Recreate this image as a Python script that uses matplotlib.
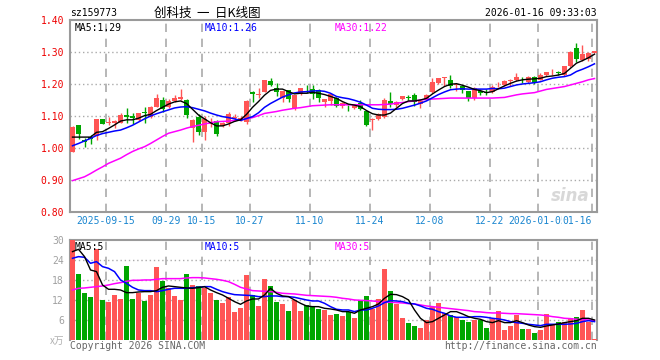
import numpy as np
import matplotlib
matplotlib.use("Agg")
from matplotlib import pyplot as plt
from matplotlib import transforms

# ---- data (88 trading days, 2025-09-05 .. 2026-01-16) ----
opens = [0.990, 1.073, 1.025, 1.034, 1.038, 1.091, 1.080, 1.078, 1.080, 1.104,
         1.101, 1.088, 1.114, 1.099, 1.130, 1.151, 1.130, 1.149, 1.153, 1.151,
         1.063, 1.098, 1.050, 1.076, 1.085, 1.069, 1.078, 1.096, 1.093, 1.081,
         1.177, 1.167, 1.177, 1.211, 1.187, 1.158, 1.181, 1.125, 1.170, 1.186,
         1.186, 1.183, 1.146, 1.148, 1.158, 1.132, 1.130, 1.126, 1.142, 1.115,
         1.089, 1.092, 1.099, 1.149, 1.136, 1.153, 1.160, 1.167, 1.138, 1.153,
         1.177, 1.205, 1.219, 1.213, 1.197, 1.196, 1.179, 1.156, 1.179, 1.177,
         1.175, 1.200, 1.198, 1.211, 1.213, 1.214, 1.208, 1.222, 1.214, 1.229,
         1.237, 1.240, 1.229, 1.257, 1.315, 1.276, 1.278, 1.299]
highs = [1.070, 1.074, 1.032, 1.041, 1.092, 1.092, 1.099, 1.087, 1.111, 1.127,
         1.109, 1.111, 1.130, 1.133, 1.170, 1.161, 1.155, 1.167, 1.184, 1.153,
         1.093, 1.108, 1.100, 1.094, 1.087, 1.082, 1.112, 1.108, 1.101, 1.150,
         1.180, 1.189, 1.215, 1.221, 1.203, 1.180, 1.183, 1.168, 1.190, 1.199,
         1.199, 1.185, 1.154, 1.170, 1.161, 1.145, 1.136, 1.137, 1.152, 1.116,
         1.094, 1.109, 1.158, 1.175, 1.148, 1.164, 1.168, 1.172, 1.152, 1.169,
         1.219, 1.221, 1.223, 1.228, 1.201, 1.199, 1.180, 1.192, 1.184, 1.184,
         1.198, 1.208, 1.213, 1.216, 1.234, 1.224, 1.227, 1.226, 1.234, 1.240,
         1.248, 1.243, 1.258, 1.304, 1.330, 1.323, 1.300, 1.305]
lows = [0.987, 1.030, 1.005, 1.013, 1.026, 1.075, 1.073, 1.062, 1.079, 1.078,
        1.076, 1.086, 1.080, 1.096, 1.128, 1.114, 1.125, 1.146, 1.150, 1.094,
        1.020, 1.042, 1.026, 1.068, 1.040, 1.066, 1.071, 1.086, 1.085, 1.076,
        1.146, 1.156, 1.176, 1.194, 1.163, 1.144, 1.146, 1.120, 1.166, 1.173,
        1.154, 1.146, 1.129, 1.136, 1.130, 1.127, 1.118, 1.124, 1.120, 1.070,
        1.057, 1.090, 1.095, 1.130, 1.128, 1.150, 1.150, 1.133, 1.126, 1.151,
        1.172, 1.202, 1.195, 1.190, 1.179, 1.174, 1.149, 1.152, 1.167, 1.167,
        1.172, 1.193, 1.195, 1.195, 1.210, 1.203, 1.205, 1.201, 1.212, 1.226,
        1.228, 1.229, 1.226, 1.253, 1.271, 1.274, 1.274, 1.297]
closes = [1.067, 1.045, 1.019, 1.028, 1.091, 1.076, 1.083, 1.085, 1.104, 1.099,
          1.095, 1.109, 1.110, 1.130, 1.156, 1.122, 1.149, 1.156, 1.161, 1.104,
          1.088, 1.052, 1.093, 1.080, 1.046, 1.078, 1.106, 1.098, 1.096, 1.148,
          1.171, 1.169, 1.214, 1.198, 1.177, 1.179, 1.153, 1.167, 1.189, 1.184,
          1.169, 1.156, 1.153, 1.169, 1.133, 1.142, 1.128, 1.136, 1.122, 1.073,
          1.091, 1.106, 1.151, 1.138, 1.145, 1.163, 1.158, 1.146, 1.149, 1.167,
          1.206, 1.219, 1.222, 1.195, 1.199, 1.183, 1.156, 1.190, 1.172, 1.174,
          1.193, 1.202, 1.210, 1.213, 1.224, 1.212, 1.224, 1.205, 1.229, 1.240,
          1.239, 1.234, 1.257, 1.302, 1.278, 1.295, 1.297, 1.303]

ma5 = [1.035, 1.035, 1.035, 1.035, 1.050, 1.052, 1.062, 1.073, 1.085, 1.089,
       1.089, 1.094, 1.102, 1.106, 1.118, 1.128, 1.138, 1.145, 1.148, 1.140,
       1.122, 1.104, 1.092, 1.080, 1.070, 1.070, 1.076, 1.084, 1.089, 1.106,
       1.128, 1.146, 1.166, 1.181, 1.185, 1.185, 1.177, 1.170, 1.172, 1.172,
       1.175, 1.172, 1.168, 1.162, 1.156, 1.146, 1.138, 1.135, 1.130, 1.118,
       1.108, 1.104, 1.104, 1.110, 1.125, 1.140, 1.148, 1.148, 1.151, 1.156,
       1.170, 1.182, 1.193, 1.200, 1.202, 1.197, 1.191, 1.184, 1.180, 1.174,
       1.177, 1.186, 1.195, 1.203, 1.210, 1.214, 1.216, 1.217, 1.219, 1.224,
       1.226, 1.229, 1.234, 1.250, 1.266, 1.274, 1.283, 1.294]
ma10 = [1.008, 1.015, 1.023, 1.031, 1.040, 1.046, 1.050, 1.054, 1.057, 1.064,
        1.072, 1.082, 1.092, 1.101, 1.108, 1.114, 1.120, 1.126, 1.129, 1.130,
        1.127, 1.122, 1.117, 1.110, 1.104, 1.099, 1.096, 1.092, 1.087, 1.093,
        1.099, 1.111, 1.128, 1.140, 1.150, 1.160, 1.167, 1.173, 1.176, 1.177,
        1.179, 1.180, 1.178, 1.172, 1.162, 1.158, 1.155, 1.150, 1.144, 1.135,
        1.125, 1.122, 1.121, 1.121, 1.122, 1.125, 1.130, 1.135, 1.141, 1.148,
        1.158, 1.168, 1.176, 1.183, 1.185, 1.186, 1.185, 1.185, 1.185, 1.185,
        1.187, 1.186, 1.188, 1.193, 1.198, 1.201, 1.203, 1.205, 1.208, 1.214,
        1.219, 1.222, 1.224, 1.229, 1.240, 1.247, 1.255, 1.264]
ma30 = [0.899, 0.905, 0.911, 0.921, 0.932, 0.942, 0.953, 0.961, 0.969, 0.980,
        0.990, 0.998, 1.005, 1.015, 1.026, 1.037, 1.047, 1.052, 1.057, 1.063,
        1.068, 1.072, 1.076, 1.080, 1.083, 1.084, 1.085, 1.087, 1.089, 1.092,
        1.096, 1.102, 1.109, 1.112, 1.115, 1.119, 1.122, 1.125, 1.127, 1.130,
        1.133, 1.134, 1.135, 1.136, 1.136, 1.136, 1.136, 1.136, 1.136, 1.136,
        1.136, 1.136, 1.137, 1.138, 1.141, 1.143, 1.146, 1.148, 1.151, 1.153,
        1.154, 1.155, 1.156, 1.157, 1.157, 1.157, 1.157, 1.157, 1.157, 1.157,
        1.157, 1.158, 1.159, 1.163, 1.167, 1.170, 1.172, 1.174, 1.179, 1.184,
        1.187, 1.190, 1.193, 1.198, 1.203, 1.208, 1.214, 1.218]

volume = [30.5, 19.9, 14.3, 13.0, 27.4, 12.1, 11.5, 13.5, 12.4, 22.3,
          12.4, 14.2, 11.8, 13.6, 22.0, 17.8, 15.6, 13.3, 12.1, 19.9,
          16.6, 16.3, 15.8, 14.2, 12.1, 11.2, 13.1, 8.5, 9.7, 19.6,
          13.6, 10.3, 18.4, 16.3, 11.5, 10.9, 8.8, 12.1, 8.8, 10.6,
          10.3, 9.4, 9.1, 7.6, 7.9, 7.3, 8.6, 6.7, 12.1, 13.3,
          9.4, 12.4, 21.4, 14.8, 10.9, 6.7, 5.2, 4.3, 3.7, 6.1,
          10.0, 11.2, 8.2, 7.6, 7.0, 6.1, 5.5, 6.1, 6.1, 3.7,
          6.4, 8.8, 3.1, 4.3, 7.6, 3.4, 3.4, 2.2, 3.1, 7.9,
          4.6, 5.5, 5.5, 6.7, 7.0, 9.1, 5.5, 0.4]
vma5 = [26.6, 27.3, 25.1, 21.1, 20.6, 16.6, 15.3, 15.3, 15.1, 14.3,
        14.3, 14.5, 14.6, 14.6, 14.9, 15.9, 16.3, 16.1, 15.9, 15.7,
        15.6, 15.8, 16.1, 15.1, 14.3, 13.6, 12.6, 11.6, 10.8, 11.8,
        12.4, 12.4, 13.6, 15.6, 14.1, 13.3, 13.1, 12.1, 11.1, 10.3,
        10.1, 10.1, 9.6, 9.4, 9.1, 8.6, 8.6, 8.1, 9.1, 9.6,
        10.1, 10.9, 12.6, 13.8, 13.7, 13.1, 12.1, 9.1, 6.6, 5.3,
        5.6, 6.6, 7.6, 8.6, 8.6, 7.9, 7.1, 6.6, 6.3, 5.6,
        5.3, 5.9, 5.3, 5.3, 5.9, 5.3, 4.6, 4.1, 3.9, 4.3,
        4.6, 4.9, 5.3, 5.6, 5.9, 6.6, 6.6, 6.1]
vma10 = [24.6, 25.1, 24.9, 23.1, 23.6, 22.1, 21.6, 20.6, 18.1, 17.1,
         15.9, 15.1, 14.9, 14.9, 14.6, 14.9, 15.3, 15.6, 15.6, 15.6,
         15.8, 15.9, 16.1, 16.1, 15.3, 14.6, 14.1, 13.7, 13.6, 13.5,
         13.4, 13.1, 13.1, 13.3, 13.3, 13.1, 13.1, 12.9, 12.5, 12.1,
         11.8, 11.8, 11.1, 10.1, 9.3, 9.1, 9.1, 8.6, 9.1, 9.1,
         9.6, 10.3, 11.3, 11.9, 11.8, 11.6, 11.1, 10.9, 10.3, 9.6,
         9.3, 8.6, 8.1, 7.3, 6.9, 6.9, 6.9, 7.1, 7.1, 6.9,
         6.6, 6.4, 6.1, 5.6, 5.3, 5.1, 4.8, 4.6, 4.4, 4.8,
         4.8, 4.8, 4.8, 4.9, 5.1, 5.6, 5.9, 5.6]
vma30 = [15.1, 15.6, 15.7, 15.9, 16.1, 16.3, 16.6, 17.0, 17.3, 17.7,
         18.0, 18.0, 18.1, 18.1, 18.3, 18.5, 18.5, 18.5, 18.5, 18.7,
         18.8, 18.8, 18.7, 18.5, 18.3, 18.0, 17.6, 16.8, 15.9, 15.4,
         14.9, 14.8, 14.7, 14.6, 14.4, 14.1, 14.0, 13.9, 13.7, 13.5,
         13.4, 13.3, 13.2, 13.1, 12.9, 12.6, 12.4, 12.1, 12.0, 11.9,
         11.8, 11.6, 11.5, 11.4, 11.3, 11.2, 11.0, 10.9, 10.6, 10.3,
         10.1, 9.9, 9.7, 9.5, 9.3, 9.1, 8.9, 8.6, 8.5, 8.3,
         8.2, 8.2, 8.1, 8.0, 8.0, 7.9, 7.8, 7.7, 7.6, 7.4,
         7.1, 6.9, 6.6, 6.5, 6.3, 6.2, 6.1, 5.9]

tick_idx = [6, 16, 22, 30, 40, 50, 60, 70, 78, 87]
tick_labels = ["2025-09-15", "09-29", "10-15", "10-27", "11-10", "11-24",
               "12-08", "12-22", "2026-01-05", "01-16"]
price_ticks = [0.80, 0.90, 1.00, 1.10, 1.20, 1.30, 1.40]
vol_ticks = [6, 12, 18, 24, 30]

RED = "#ff5555"
GREEN = "#00a600"
GRID = "#aaaaaa"
SPINE = "#9a9a9a"
MONO = "DejaVu Sans Mono"
FS = 7

plt.rcParams["font.family"] = [MONO, "Noto Sans CJK SC"]

fig = plt.figure(figsize=(6.6, 3.6), dpi=100)
W, H = 660.0, 360.0
ax = fig.add_axes([70.3 / W, 1 - 212.3 / H, 527 / W, 192 / H])
axv = fig.add_axes([70.3 / W, 1 - 340.3 / H, 527 / W, 100 / H])

x = np.arange(len(closes))
o = np.array(opens)
c = np.array(closes)
up = c >= o
cols = [RED if u else GREEN for u in up]
grid_x = [i - 0.42 for i in tick_idx]

# ---- price panel ----
ax.vlines(x, lows, highs, colors=cols, lw=1, zorder=3)
body_h = np.maximum(np.abs(c - o), 0.0025)
ax.bar(x, body_h, bottom=np.minimum(o, c), width=0.82, color=cols, lw=0, zorder=4)
ax.plot(x, ma30, color="#ff00ff", lw=1.1, zorder=5)
ax.plot(x, ma10, color="#0000ff", lw=1.1, zorder=5)
ax.plot(x, ma5, color="#000000", lw=1.0, zorder=6)

for p in price_ticks[1:-1]:
    ax.axhline(p, color=GRID, lw=1, ls=(0, (1, 2)), zorder=1)
for gx in grid_x:
    ax.axvline(gx, color=GRID, lw=1.2, ls=(0, (5, 4)), zorder=1)
    axv.axvline(gx, color=GRID, lw=1.2, ls=(0, (5, 4)), zorder=1)

ax.set_xlim(-0.37, 87.47)
ax.set_ylim(0.80, 1.40)
ax.set_yticks(price_ticks)
ax.set_yticklabels(["%.2f" % p for p in price_ticks], color="#ee0000", fontsize=FS)
ax.tick_params(axis="y", length=0, pad=4.5)
ax.set_xticks(grid_x[:-1])
ax.set_xticklabels(tick_labels[:-1], color="#1a86d0", fontsize=FS)
ax.tick_params(axis="x", length=0, pad=2.5)
ax.text(grid_x[-1], -0.02, tick_labels[-1], transform=transforms.blended_transform_factory(ax.transData, ax.transAxes),
        ha="right", va="top", color="#1a86d0", fontsize=FS,
        bbox=dict(facecolor="white", edgecolor="none", pad=0.3), clip_on=False)
for s in ax.spines.values():
    s.set_color(SPINE)
    s.set_linewidth(1.5)

ax.text(0.008, 0.985, "MA5:1.29", transform=ax.transAxes, ha="left", va="top", fontsize=FS, color="black")
ax.text(0.255, 0.985, "MA10:1.26", transform=ax.transAxes, ha="left", va="top", fontsize=FS, color="#0000ff")
ax.text(0.502, 0.985, "MA30:1.22", transform=ax.transAxes, ha="left", va="top", fontsize=FS, color="#ff00ff")

# sina watermark
ax.text(0.985, 0.04, "sina", transform=ax.transAxes, ha="right", va="bottom", fontsize=12,
        fontweight="bold", style="italic", color="#d8d8d8", family="DejaVu Sans", zorder=2)

# ---- volume panel ----
axv.bar(x, volume, width=0.82, color=cols, lw=0, zorder=3)
axv.plot(x, vma30, color="#ff00ff", lw=1.1, zorder=5)
axv.plot(x, vma10, color="#0000ff", lw=1.1, zorder=5)
axv.plot(x, vma5, color="#000000", lw=1.0, zorder=6)
for v in vol_ticks[:-1]:
    axv.axhline(v, color=GRID, lw=1, ls=(0, (1, 2)), zorder=1)
axv.set_xlim(-0.37, 87.47)
axv.set_ylim(0, 30)
axv.set_xticks([])
axv.set_yticks(vol_ticks)
axv.set_yticklabels([str(v) for v in vol_ticks], color="#a0a0a0", fontsize=FS)
axv.tick_params(axis="y", length=0, pad=4.5)
for k, s in axv.spines.items():
    s.set_color(SPINE)
    s.set_linewidth(1.5)
axv.spines["bottom"].set_visible(False)

axv.text(0.008, 0.985, "MA5:5", transform=axv.transAxes, ha="left", va="top", fontsize=FS, color="black")
axv.text(0.255, 0.985, "MA10:5", transform=axv.transAxes, ha="left", va="top", fontsize=FS, color="#0000ff")
axv.text(0.502, 0.985, "MA30:5", transform=axv.transAxes, ha="left", va="top", fontsize=FS, color="#ff00ff")

# ---- header / footer texts ----
fig.text(70.5 / W, 1 - 13 / H, "sz159773", ha="left", va="center", fontsize=FS, color="black")
fig.text(207 / W, 1 - 13 / H, "创科技  一  日K线图", ha="center", va="center", fontsize=9,
         color="black", family=["Noto Sans CJK SC", "DejaVu Sans"])
fig.text(597 / W, 1 - 13 / H, "2026-01-16 09:33:03", ha="right", va="center", fontsize=FS, color="black")
fig.text(64 / W, 1 - 341 / H, "x万", ha="right", va="center", fontsize=7, color="#b0b0b0",
         family=["Noto Sans CJK SC", "DejaVu Sans"])
fig.text(70 / W, 1 - 346 / H, "Copyright 2026 SINA.COM", ha="left", va="center", fontsize=FS, color="#666666")
fig.text(597 / W, 1 - 346 / H, "http://finance.sina.com.cn", ha="right", va="center", fontsize=FS, color="#666666")

fig.savefig("out.png", dpi=100, facecolor="white")
